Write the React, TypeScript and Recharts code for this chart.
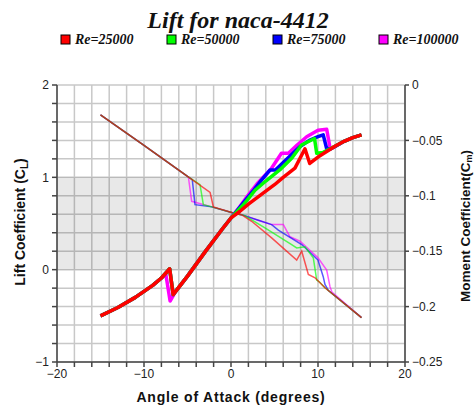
import React from 'react';
import { LineChart, Line, XAxis, YAxis, CartesianGrid, ReferenceArea } from 'recharts';

// ---- Data (angle of attack in degrees) ----
const xTicks = [-20, -18, -16, -14, -12, -10, -8, -6, -4, -2, 0, 2, 4, 6, 8, 10, 12, 14, 16, 18, 20];
const clTicks = [-1, -0.8, -0.6, -0.4, -0.2, 0, 0.2, 0.4, 0.6, 0.8, 1, 1.2, 1.4, 1.6, 1.8, 2];
const cmTicks = [-0.25, -0.2, -0.15, -0.1, -0.05, 0];
const legendLabels = ['Re=25000', 'Re=50000', 'Re=75000', 'Re=100000'];
const seriesColors = ['#ff0000', '#00ff00', '#0000ff', '#ff00ff'];

// Lift coefficient
const re25LiftAlpha = [-15, -13, -11, -9, -8, -7.05, -6.65, -5, -3, -1, 0, 1, 2, 3, 4, 5, 6, 7.35, 8.5, 9.05, 10, 11, 12, 13, 14, 15];
const re25LiftCl = [-0.5, -0.41, -0.3, -0.17, -0.09, 0.01, -0.27, -0.07, 0.19, 0.44, 0.56, 0.63, 0.71, 0.78, 0.85, 0.92, 1.0, 1.1, 1.31, 1.15, 1.22, 1.28, 1.34, 1.39, 1.43, 1.46];

const re50LiftAlpha = [-15, -13, -11, -9, -8, -7.05, -6.65, -5, -3, -1, 0, 1.4, 2.76, 4, 5.6, 7, 8.1, 9.6, 9.85, 10.6, 12, 13, 14, 15];
const re50LiftCl = [-0.5, -0.41, -0.3, -0.17, -0.09, 0.01, -0.27, -0.07, 0.19, 0.44, 0.56, 0.7, 0.86, 0.96, 1.08, 1.21, 1.35, 1.42, 1.26, 1.27, 1.34, 1.39, 1.43, 1.46];

const re75LiftAlpha = [-15, -13, -11, -9, -8, -7.05, -6.65, -5, -3, -1, 0, 1, 2, 2.6, 3.5, 4.5, 5.1, 6, 7, 7.9, 9, 10, 10.6, 11.0, 11.5, 13, 14, 15];
const re75LiftCl = [-0.5, -0.41, -0.3, -0.17, -0.09, 0.01, -0.27, -0.07, 0.19, 0.44, 0.56, 0.675, 0.79, 0.86, 0.97, 1.08, 1.08, 1.16, 1.25, 1.33, 1.4, 1.44, 1.46, 1.31, 1.31, 1.39, 1.43, 1.46];

const re100LiftAlpha = [-15, -13, -11, -9, -8, -7.5, -7.0, -6.4, -5, -3, -1, 0, 1, 2, 3, 4, 4.6, 5.8, 6.6, 7.6, 8.7, 10, 11, 11.4, 11.9, 13, 14, 15];
const re100LiftCl = [-0.5, -0.41, -0.3, -0.17, -0.09, -0.045, -0.34, -0.24, -0.07, 0.19, 0.44, 0.56, 0.68, 0.81, 0.93, 1.03, 1.09, 1.26, 1.26, 1.35, 1.44, 1.51, 1.52, 1.31, 1.33, 1.39, 1.43, 1.46];

// Moment coefficient
const re25MomAlpha = [-15, -10, -5, -2.4, -2.03, 0.46, 1.2, 2.37, 4.67, 7.55, 8.13, 8.89, 9.66, 10.8, 15];
const re25MomCm = [-0.027, -0.0545, -0.0825, -0.097, -0.11, -0.116, -0.117, -0.123, -0.138, -0.158, -0.15, -0.171, -0.174, -0.183, -0.21];

const re50MomAlpha = [-15, -10, -5, -3.56, -3.18, -2.2, 0.46, 1.2, 1.6, 3.9, 6.97, 7.55, 8.5, 9.46, 9.85, 10.2, 10.8, 15];
const re50MomCm = [-0.027, -0.0545, -0.0825, -0.09, -0.108, -0.11, -0.116, -0.117, -0.118, -0.129, -0.144, -0.147, -0.146, -0.156, -0.176, -0.178, -0.183, -0.21];

const re75MomAlpha = [-15, -10, -5, -4.45, -4.14, -2.2, 0.46, 1.2, 3.14, 4.67, 5.44, 8.13, 10.0, 10.6, 10.8, 11.2, 15];
const re75MomCm = [-0.027, -0.0545, -0.0825, -0.0855, -0.108, -0.11, -0.116, -0.117, -0.122, -0.126, -0.131, -0.144, -0.158, -0.173, -0.18, -0.1855, -0.21];

const re100MomAlpha = [-15, -10, -5, -4.9, -4.52, -2.2, 0.46, 1.2, 3.14, 4.67, 6.01, 6.78, 7.93, 10.0, 11.0, 11.38, 11.6, 15];
const re100MomCm = [-0.027, -0.0545, -0.0825, -0.083, -0.105, -0.11, -0.116, -0.117, -0.122, -0.126, -0.126, -0.137, -0.141, -0.156, -0.167, -0.182, -0.1868, -0.21];

const rows = (xs: number[], ys: number[]) => xs.map((x, i) => ({ x, y: ys[i] }));

const liftSeries = [
  rows(re25LiftAlpha, re25LiftCl),
  rows(re50LiftAlpha, re50LiftCl),
  rows(re75LiftAlpha, re75LiftCl),
  rows(re100LiftAlpha, re100LiftCl),
];
const momentSeries = [
  rows(re25MomAlpha, re25MomCm),
  rows(re50MomAlpha, re50MomCm),
  rows(re75MomAlpha, re75MomCm),
  rows(re100MomAlpha, re100MomCm),
];

const drawOrder = [3, 2, 1, 0];
const minus = (s: string) => s.replace('-', '\u2212');
const fmtInt = (v: number) => (Math.abs(v - Math.round(v)) < 1e-6 ? minus(String(Math.round(v))) : '');
const fmtX = (v: number) => (Math.abs(v % 10) < 1e-6 ? minus(String(v)) : '');
const fmtCm = (v: number) => minus(String(Math.round(v * 100) / 100));

const axisStroke = { stroke: '#444', strokeWidth: 1.5 };
const tickStyle = { fontFamily: 'Liberation Sans, Arial, sans-serif', fontSize: 12, fill: '#222' };

export default function App() {
  const W = 474;
  const H = 409;
  return (
    <div style={{ position: 'absolute', left: 0, top: 0, width: W, height: H, background: '#fff' }}>
      <LineChart width={W} height={H} margin={{ top: 85, right: 24, bottom: 27, left: 0 }}>
        <ReferenceArea yAxisId="left" y1={0} y2={1} x1={-20} x2={20} fill="#000" fillOpacity={0.09} stroke="none" />
        <CartesianGrid yAxisId="left" stroke="#c8c8c8" strokeWidth={1.5} strokeDasharray="" />
        <XAxis
          type="number"
          dataKey="x"
          domain={[-20, 20]}
          ticks={xTicks}
          tickFormatter={fmtX}
          interval={0}
          height={20}
          tickSize={5}
          tickMargin={2}
          axisLine={axisStroke}
          tickLine={axisStroke}
          tick={tickStyle}
          allowDataOverflow
        />
        <XAxis xAxisId="top" orientation="top" type="number" domain={[-20, 20]} height={0} tick={false} tickLine={false} axisLine={axisStroke} />
        <YAxis
          yAxisId="left"
          type="number"
          domain={[-1, 2]}
          ticks={clTicks}
          tickFormatter={fmtInt}
          interval={0}
          width={57}
          tickSize={5}
          tickMargin={3}
          axisLine={axisStroke}
          tickLine={axisStroke}
          tick={tickStyle}
          allowDataOverflow
        />
        <YAxis
          yAxisId="right"
          orientation="right"
          type="number"
          domain={[-0.25, 0]}
          ticks={cmTicks}
          tickFormatter={fmtCm}
          interval={0}
          width={45}
          tickSize={4}
          tickMargin={3}
          axisLine={axisStroke}
          tickLine={axisStroke}
          tick={tickStyle}
          allowDataOverflow
        />
        {drawOrder.map((i) => (
          <Line
            key={'m' + i}
            yAxisId="right"
            data={momentSeries[i]}
            dataKey="y"
            type="linear"
            stroke={seriesColors[i]}
            strokeOpacity={0.65}
            strokeWidth={1.5}
            dot={false}
            activeDot={false}
            isAnimationActive={false}
          />
        ))}
        {drawOrder.map((i) => (
          <Line
            key={'l' + i}
            yAxisId="left"
            data={liftSeries[i]}
            dataKey="y"
            type="linear"
            stroke={seriesColors[i]}
            strokeWidth={3.5}
            strokeLinejoin="round"
            dot={false}
            activeDot={false}
            isAnimationActive={false}
          />
        ))}
      </LineChart>
      <svg width={W} height={H} style={{ position: 'absolute', left: 0, top: 0, pointerEvents: 'none' }}>
        <text x={238} y={28} textAnchor="middle" fontFamily="Liberation Serif, Times New Roman, serif" fontWeight="bold" fontStyle="italic" fontSize={24} fill="#111">
          Lift for naca-4412
        </text>
        {legendLabels.map((lab, i) => (
          <g key={lab}>
            <rect x={61 + i * 106} y={35} width={9} height={9} fill={seriesColors[i]} stroke="#000" strokeWidth={1} />
            <text x={75 + i * 106} y={44} fontFamily="Liberation Serif, Times New Roman, serif" fontWeight="bold" fontStyle="italic" fontSize={14} fill="#111">
              {lab}
            </text>
          </g>
        ))}
        <text x={231} y={402} textAnchor="middle" fontFamily="Liberation Sans, Arial, sans-serif" fontWeight="bold" fontSize={14} letterSpacing={0.8} fill="#111">
          Angle of Attack (degrees)
        </text>
        <text transform="translate(25,222) rotate(-90)" textAnchor="middle" fontFamily="Liberation Sans, Arial, sans-serif" fontWeight="bold" fontSize={14} fill="#111">
          Lift Coefficient (C<tspan fontSize={10} dy={3}>L</tspan><tspan dy={-3}>)</tspan>
        </text>
        <text transform="translate(470,226) rotate(-90)" textAnchor="middle" fontFamily="Liberation Sans, Arial, sans-serif" fontWeight="bold" fontSize={13.5} fill="#111">
          Moment Coefficient(C<tspan fontSize={9} dy={2}>m</tspan><tspan dy={-2}>)</tspan>
        </text>
      </svg>
    </div>
  );
}
